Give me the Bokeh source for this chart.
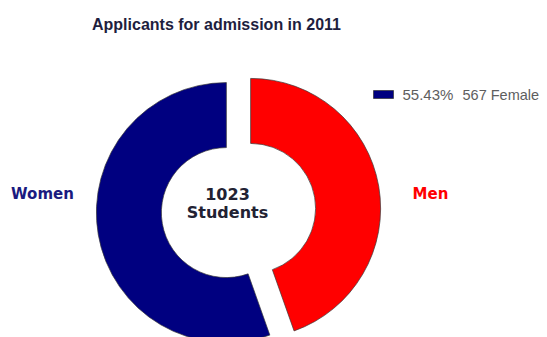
import math
from bokeh.plotting import figure
from bokeh.models import Range1d
from bokeh.core.properties import value
from bokeh.embed import file_html
from bokeh.resources import INLINE

# ---- data ----
categories = ["Women", "Men"]
legend_labels = ["Female", "Male"]
counts = [567, 456]
colors = ["#000080", "#FF0000"]
label_colors = ["#1a1a80", "#FF0000"]
title_text = "Applicants for admission in 2011"
center_unit = "Students"

total = sum(counts)
fracs = [c / total for c in counts]

W, H = 547, 337
p = figure(width=W, height=H, output_backend="svg", toolbar_location=None,
           x_range=Range1d(0, W), y_range=Range1d(0, H),
           min_border=0, outline_line_color=None, background_fill_color="white",
           border_fill_color="white")
p.axis.visible = False
p.grid.visible = False

def Y(py):
    return H - py

cx, cy = 238, Y(210)
R_out, R_in, explode = 130, 65, 12.3

w_start = 90.0
w_end = 90.0 + fracs[0] * 360
m_start = w_end
m_end = 450.0
spans = [(w_start, w_end), (m_start, m_end)]
for (a0, a1), col in zip(spans, colors):
    mid = math.radians((a0 + a1) / 2)
    ox = cx + explode * math.cos(mid)
    oy = cy + explode * math.sin(mid)
    p.annular_wedge(x=[ox], y=[oy], inner_radius=R_in, outer_radius=R_out,
                    start_angle=[math.radians(a0)], end_angle=[math.radians(a1)],
                    direction="anticlock", fill_color=col,
                    line_color="#3a3a3a", line_width=0.7)

# title
p.text(x=[216], y=[Y(24)], text=[title_text], text_align="center",
       text_baseline="middle", text_font=value("Liberation Sans"),
       text_font_style="bold", text_font_size="16px", text_color="#1e1e3e")

# side labels
p.text(x=[42, 430], y=[Y(193), Y(193)], text=categories, text_align="center",
       text_baseline="middle", text_font=value("DejaVu Sans"),
       text_font_style="bold", text_font_size="15px", text_color=label_colors)

# center text
p.text(x=[227, 227], y=[Y(193), Y(212)], text=[str(total), center_unit],
       text_align="center", text_baseline="middle",
       text_font=value("DejaVu Sans"), text_font_style="bold",
       text_font_size="16px", text_color="#222233")

# legend (first entry)
p.rect(x=[383], y=[Y(94)], width=20, height=8, fill_color=colors[0],
       line_color="#333333", line_width=0.7)
p.text(x=[402], y=[Y(94)], text=[f"{fracs[0]*100:.2f}%"], text_align="left",
       text_baseline="middle", text_font=value("Liberation Sans"),
       text_font_size="15px", text_color="#5e5e5e")
p.text(x=[462], y=[Y(94)], text=[f"{counts[0]} {legend_labels[0]}"],
       text_align="left", text_baseline="middle",
       text_font=value("Liberation Sans"), text_font_size="14.5px",
       text_color="#5e5e5e")

open("out.html", "w").write(file_html(p, INLINE))
